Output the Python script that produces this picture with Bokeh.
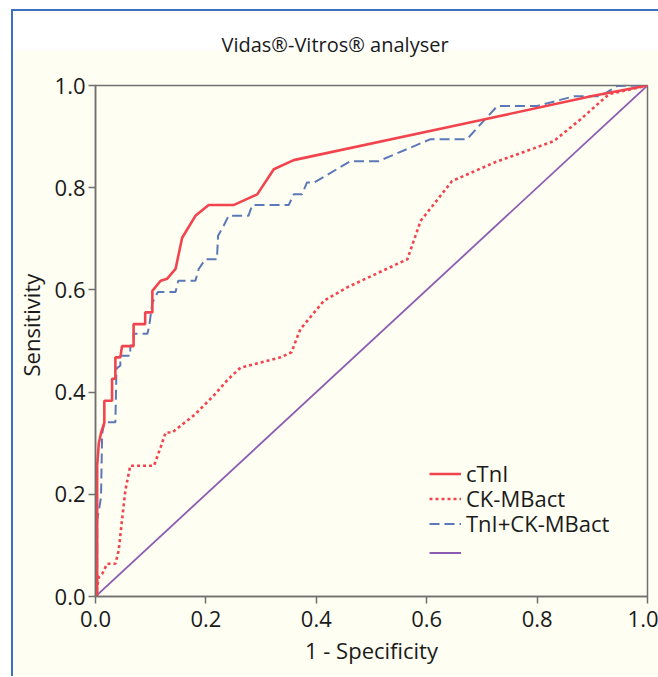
from bokeh.plotting import figure
from bokeh.models import Legend, LegendItem, Title, Range1d, PrintfTickFormatter
from bokeh.embed import file_html
from bokeh.resources import INLINE

# ---- data ----
ctni_x = [0.0, 0.003, 0.003, 0.006, 0.010, 0.016, 0.016, 0.030, 0.030, 0.036, 0.036, 0.045,
          0.048, 0.069, 0.069, 0.090, 0.090, 0.103, 0.103, 0.118, 0.130, 0.145, 0.157, 0.181,
          0.205, 0.250, 0.293, 0.323, 0.359, 0.697, 0.902, 1.0]
ctni_y = [0.0, 0.0, 0.256, 0.300, 0.320, 0.340, 0.383, 0.383, 0.426, 0.426, 0.468, 0.468,
          0.490, 0.490, 0.533, 0.533, 0.556, 0.556, 0.598, 0.618, 0.622, 0.641, 0.702, 0.745,
          0.766, 0.766, 0.787, 0.836, 0.854, 0.932, 0.980, 1.0]

ckmb_x = [0.0, 0.006, 0.012, 0.021, 0.036, 0.042, 0.048, 0.054, 0.063, 0.106, 0.118, 0.127,
          0.139, 0.181, 0.214, 0.241, 0.263, 0.299, 0.335, 0.355, 0.371, 0.414, 0.456, 0.565,
          0.589, 0.646, 0.722, 0.830, 0.879, 0.930, 1.0]
ckmb_y = [0.0, 0.038, 0.044, 0.064, 0.064, 0.090, 0.149, 0.207, 0.256, 0.256, 0.292, 0.321,
          0.321, 0.357, 0.393, 0.426, 0.448, 0.458, 0.468, 0.478, 0.523, 0.579, 0.605, 0.660,
          0.735, 0.813, 0.849, 0.891, 0.934, 0.983, 1.0]

comb_x = [0.0, 0.003, 0.003, 0.010, 0.012, 0.016, 0.036, 0.038, 0.045, 0.045, 0.063, 0.063,
          0.069, 0.069, 0.094, 0.097, 0.103, 0.113, 0.145, 0.150, 0.181, 0.187, 0.199, 0.220,
          0.222, 0.232, 0.241, 0.277, 0.284, 0.350, 0.359, 0.374, 0.383, 0.396, 0.462, 0.513,
          0.607, 0.673, 0.728, 0.800, 0.867, 0.915, 0.945, 1.0]
comb_y = [0.0, 0.0, 0.149, 0.194, 0.318, 0.341, 0.341, 0.446, 0.452, 0.471, 0.471, 0.491,
          0.491, 0.514, 0.514, 0.527, 0.575, 0.596, 0.596, 0.618, 0.618, 0.641, 0.660, 0.660,
          0.706, 0.725, 0.745, 0.745, 0.766, 0.766, 0.787, 0.787, 0.810, 0.810, 0.852, 0.852,
          0.895, 0.895, 0.960, 0.960, 0.979, 0.979, 0.999, 1.0]

ref_x = [0.0, 1.0]
ref_y = [0.0, 1.0]

x_ticks = [0.0, 0.2, 0.4, 0.6, 0.8, 1.0]
y_ticks = [0.0, 0.2, 0.4, 0.6, 0.8, 1.0]

labels = ["cTnI", "CK-MBact", "TnI+CK-MBact", " "]

FONT = "Open Sans"
CREAM = "#FEFEF2"
RED = "#F2444E"
BLUE = "#5B78B8"
PURPLE = "#8C5CB2"
AXIS = "#707070"
EDGE = "#3E70C0"

p = figure(frame_width=552, frame_height=511, output_backend="svg", toolbar_location=None,
           x_range=Range1d(0, 1), y_range=Range1d(0, 1),
           min_border_left=95, min_border_right=11, min_border_top=85, min_border_bottom=80,
           title=None)

p.background_fill_color = CREAM
p.border_fill_alpha = 0
p.outline_line_color = AXIS
p.outline_line_width = 1.5
p.grid.visible = False
p.styles = {
    "background": (
        f"linear-gradient({EDGE},{EDGE}) 11px 9px / 2px 100% no-repeat, "
        f"linear-gradient({EDGE},{EDGE}) 11px 9px / 100% 2px no-repeat, "
        f"linear-gradient({CREAM},{CREAM}) 13px 50px / 100% 100% no-repeat, "
        "#FFFFFF"
    ),
}

for ax in (p.xaxis[0], p.yaxis[0]):
    ax.axis_line_color = AXIS
    ax.axis_line_width = 1.5
    ax.major_tick_line_color = AXIS
    ax.major_tick_line_width = 1.5
    ax.major_tick_out = 7
    ax.major_tick_in = 0
    ax.minor_tick_line_color = None
    ax.major_label_text_font = FONT
    ax.major_label_text_font_size = "22px"
    ax.major_label_text_color = "#1a1a1a"
    ax.formatter = PrintfTickFormatter(format="%.1f")

p.xaxis.ticker = x_ticks
p.yaxis.ticker = y_ticks
p.xaxis.major_label_standoff = 7
p.yaxis.major_label_standoff = 3
p.xaxis.axis_label = "1 - Specificity"
p.xaxis.axis_label_text_font = FONT
p.xaxis.axis_label_text_font_size = "22px"
p.xaxis.axis_label_text_font_style = "normal"
p.xaxis.axis_label_text_color = "#1a1a1a"
p.xaxis.axis_label_standoff = 5

ytitle = Title(text="Sensitivity", align="left", offset=220, standoff=11,
               text_font=FONT, text_font_size="22px", text_font_style="normal",
               text_color="#1a1a1a")
p.add_layout(ytitle, "left")

ttl = Title(text="Vidas®-Vitros® analyser", align="left", offset=126, standoff=55,
            text_font=FONT, text_font_size="20px", text_font_style="normal",
            text_color="#1a1a1a")
p.add_layout(ttl, "above")

r_ref = p.line(ref_x, ref_y, line_color=PURPLE, line_width=1.8)
r_ck = p.line(ckmb_x, ckmb_y, line_color=RED, line_width=2.6, line_dash="3 3")
r_comb = p.line(comb_x, comb_y, line_color=BLUE, line_width=2, line_dash="10 5")
r_ct = p.line(ctni_x, ctni_y, line_color=RED, line_width=2.6)

renderers = [r_ct, r_ck, r_comb, r_ref]
row_pitch = 25.5
for i, (lab, rend) in enumerate(zip(labels, renderers)):
    center = 46 + row_pitch * (3 - i)
    lg = Legend(items=[LegendItem(label=lab, renderers=[rend])],
                location=(334, int(round(center - 14))))
    lg.border_line_alpha = 0
    lg.background_fill_alpha = 0
    lg.label_text_font = FONT
    lg.label_text_font_size = "22px"
    lg.label_text_color = "#1a1a1a"
    lg.glyph_width = 32
    lg.glyph_height = 23
    lg.label_height = 23
    lg.label_standoff = 5
    lg.spacing = 0
    lg.padding = 0
    lg.margin = 0
    p.add_layout(lg, "center")

open("out.html", "w").write(file_html(p, INLINE))
